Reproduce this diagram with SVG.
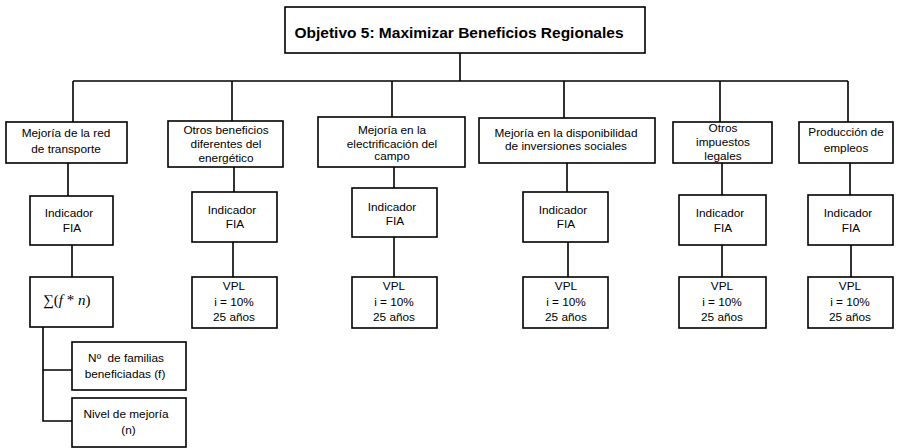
<svg xmlns="http://www.w3.org/2000/svg" width="897" height="448" viewBox="0 0 897 448">
  <style>
    .box { fill: #ffffff; stroke: #000000; stroke-width: 1.6; }
    .wire { fill: none; stroke: #000000; stroke-width: 1.6; }
    text { font-family: "Liberation Sans", Arial, sans-serif; font-size: 11.8px; fill: #000000; text-anchor: middle; }
    .title { font-size: 15.5px; font-weight: bold; }
    .math { font-family: "Liberation Serif", "Times New Roman", serif; font-size: 15px; text-anchor: start; }
  </style>

  <!-- connectors -->
  <g id="connectors">
    <path class="wire" d="M460 53 V81 M73 81 H848"/>
    <path class="wire" d="M73 81 V122 M232 81 V121 M392 81 V117 M564 81 V118 M720 81 V122 M848 81 V122"/>
    <path class="wire" d="M68 163 V196 M72 245 V277"/>
    <path class="wire" d="M234 167 V192 M233 242 V277"/>
    <path class="wire" d="M394 167 V188 M394 237 V277"/>
    <path class="wire" d="M567 163 V192 M568 242 V277"/>
    <path class="wire" d="M722 163 V195 M722 245 V277"/>
    <path class="wire" d="M850 163 V195 M851 245 V277"/>
    <path class="wire" d="M43 327 V421 H72 M43 370 H72"/>
  </g>

  <!-- root objective -->
  <g id="objetivo">
    <rect class="box" x="285" y="7" width="360" height="46"/>
    <text class="title" x="459" y="37.5">Objetivo 5: Maximizar Beneficios Regionales</text>
  </g>

  <!-- criteria -->
  <g id="transporte">
    <rect class="box" x="6" y="122" width="121" height="41"/>
    <text x="66" y="137">Mejoría de la red</text>
    <text x="66" y="153">de transporte</text>
  </g>
  <g id="otros-beneficios">
    <rect class="box" x="168" y="121" width="115" height="46"/>
    <text x="226" y="134">Otros beneficios</text>
    <text x="226" y="148">diferentes del</text>
    <text x="226" y="162">energético</text>
  </g>
  <g id="electrificacion">
    <rect class="box" x="318" y="117" width="147" height="50"/>
    <text x="392" y="134">Mejoría en la</text>
    <text x="392" y="147.5">electrificación del</text>
    <text x="392" y="160">campo</text>
  </g>
  <g id="inversiones">
    <rect class="box" x="479" y="118" width="176" height="45"/>
    <text x="566" y="136.5">Mejoría en la disponibilidad</text>
    <text x="566" y="150">de inversiones sociales</text>
  </g>
  <g id="impuestos">
    <rect class="box" x="673" y="122" width="99" height="41"/>
    <text x="723" y="132">Otros</text>
    <text x="723" y="145.5">impuestos</text>
    <text x="723" y="159.5">legales</text>
  </g>
  <g id="empleos">
    <rect class="box" x="799" y="122" width="94" height="41"/>
    <text x="846" y="136">Producción de</text>
    <text x="846" y="152">empleos</text>
  </g>

  <!-- indicators -->
  <g id="indicador-1">
    <rect class="box" x="30" y="196" width="83" height="49"/>
    <text x="69" y="216.5">Indicador</text>
    <text x="72" y="231.5">FIA</text>
  </g>
  <g id="indicador-2">
    <rect class="box" x="192" y="192" width="85" height="50"/>
    <text x="232" y="214">Indicador</text>
    <text x="235" y="227.5">FIA</text>
  </g>
  <g id="indicador-3">
    <rect class="box" x="352" y="188" width="85" height="49"/>
    <text x="392" y="210.5">Indicador</text>
    <text x="395" y="225">FIA</text>
  </g>
  <g id="indicador-4">
    <rect class="box" x="523" y="192" width="85" height="50"/>
    <text x="563" y="214">Indicador</text>
    <text x="566" y="227.5">FIA</text>
  </g>
  <g id="indicador-5">
    <rect class="box" x="679" y="195" width="87" height="50"/>
    <text x="720" y="216.5">Indicador</text>
    <text x="723" y="231.5">FIA</text>
  </g>
  <g id="indicador-6">
    <rect class="box" x="808" y="195" width="85" height="50"/>
    <text x="848" y="216.5">Indicador</text>
    <text x="851" y="231.5">FIA</text>
  </g>

  <!-- measures -->
  <g id="suma">
    <rect class="box" x="30" y="277" width="83" height="50"/>
    <text class="math" x="43" y="305">∑(<tspan font-style="italic">f</tspan> * <tspan font-style="italic">n</tspan>)</text>
  </g>
  <g id="vpl-2">
    <rect class="box" x="192" y="277" width="85" height="51"/>
    <text x="234" y="290">VPL</text>
    <text x="234" y="306">i = 10%</text>
    <text x="234" y="321">25 años</text>
  </g>
  <g id="vpl-3">
    <rect class="box" x="352" y="277" width="85" height="51"/>
    <text x="394" y="290">VPL</text>
    <text x="394" y="306">i = 10%</text>
    <text x="394" y="321">25 años</text>
  </g>
  <g id="vpl-4">
    <rect class="box" x="523" y="277" width="85" height="51"/>
    <text x="566" y="290">VPL</text>
    <text x="566" y="306">i = 10%</text>
    <text x="566" y="321">25 años</text>
  </g>
  <g id="vpl-5">
    <rect class="box" x="679" y="277" width="87" height="51"/>
    <text x="722" y="290">VPL</text>
    <text x="722" y="306">i = 10%</text>
    <text x="722" y="321">25 años</text>
  </g>
  <g id="vpl-6">
    <rect class="box" x="808" y="277" width="85" height="51"/>
    <text x="850" y="290">VPL</text>
    <text x="850" y="306">i = 10%</text>
    <text x="850" y="321">25 años</text>
  </g>

  <!-- components of the sum -->
  <g id="familias">
    <rect class="box" x="72" y="342" width="114" height="48"/>
    <text x="126" y="361.5" style="white-space:pre">Nº  de familias</text>
    <text x="125" y="377.5">beneficiadas (f)</text>
  </g>
  <g id="mejoria">
    <rect class="box" x="72" y="398" width="114" height="49"/>
    <text x="126" y="417.5">Nivel de mejoría</text>
    <text x="128.5" y="433.5">(n)</text>
  </g>
</svg>
